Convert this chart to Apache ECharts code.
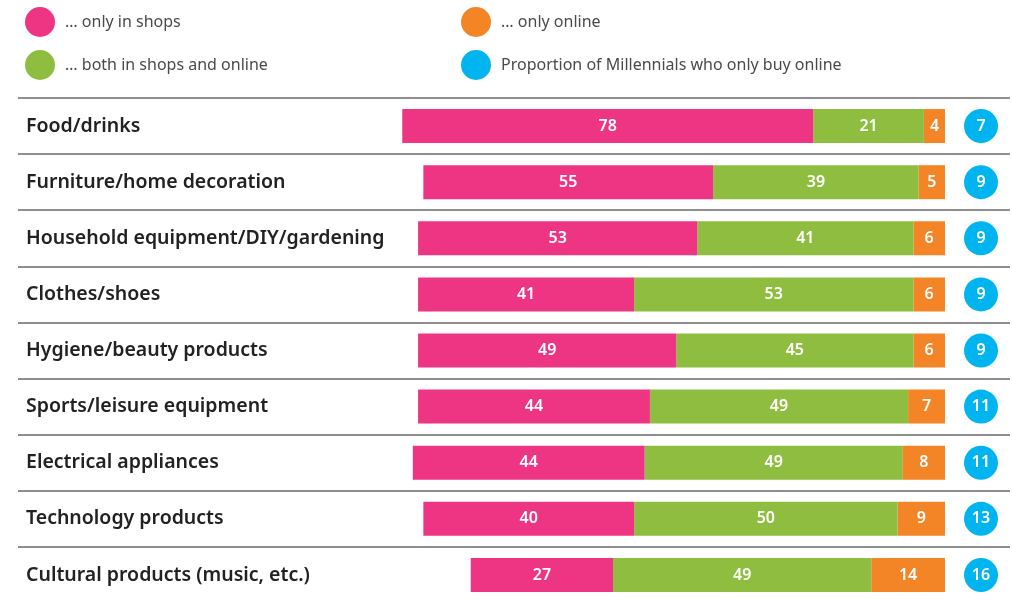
<!DOCTYPE html>
<html>
<head>
<meta charset="utf-8">
<script src="https://cdn.jsdelivr.net/npm/echarts@6/dist/echarts.min.js"></script>
<style>
  html, body { margin: 0; padding: 0; background: #fff; }
  #chart { width: 1012px; height: 600px; }
</style>
</head>
<body>
<div id="chart"></div>
<script>
var categories = [
    'Food/drinks',
    'Furniture/home decoration',
    'Household equipment/DIY/gardening',
    'Clothes/shoes',
    'Hygiene/beauty products',
    'Sports/leisure equipment',
    'Electrical appliances',
    'Technology products',
    'Cultural products (music, etc.)'
];
var onlyShops = [78, 55, 53, 41, 49, 44, 44, 40, 27];
var bothShopsOnline = [21, 39, 41, 53, 45, 49, 49, 50, 49];
var onlyOnline = [4, 5, 6, 6, 6, 7, 8, 9, 14];
var millennialsOnline = [7, 9, 9, 9, 9, 11, 11, 13, 16];

var colors = {
    shops: '#ee3584',
    both: '#8ebd3f',
    online: '#f48526',
    millennials: '#00b5ef'
};

var font = 'Noto Sans';
var gridTop = 98;
var gridHeight = 505;

var myChart = echarts.init(document.getElementById('chart'));

var barLabel = {
    show: true,
    position: 'inside',
    color: '#fff',
    fontSize: 16,
    fontWeight: 600,
    fontFamily: font
};

var legendText = { color: '#4a4a4a', fontSize: 16, fontFamily: font, padding: [0, 0, 0, 5] };

var option = {
    animation: false,
    backgroundColor: '#fff',
    legend: [
        {
            left: 25, top: 7, padding: 0,
            orient: 'vertical',
            itemWidth: 30, itemHeight: 30, itemGap: 13,
            icon: 'circle',
            textStyle: legendText,
            data: ['… only in shops', '… both in shops and online']
        },
        {
            left: 461, top: 7, padding: 0,
            orient: 'vertical',
            itemWidth: 30, itemHeight: 30, itemGap: 13,
            icon: 'circle',
            textStyle: legendText,
            data: ['… only online', 'Proportion of Millennials who only buy online']
        }
    ],
    grid: [
        { left: 18, right: 2, top: gridTop, height: gridHeight, outerBoundsMode: 'none' },
        { left: 397, right: 67, top: gridTop, height: gridHeight, outerBoundsMode: 'none' },
        { left: 964, width: 34, top: gridTop, height: gridHeight, outerBoundsMode: 'none' }
    ],
    xAxis: [
        { gridIndex: 0, type: 'value', min: 0, max: 1, show: false },
        { gridIndex: 1, type: 'value', min: 0, max: 104, inverse: true, show: false },
        { gridIndex: 2, type: 'category', data: ['Millennials'], show: false }
    ],
    yAxis: [
        {
            gridIndex: 0,
            type: 'category',
            data: categories,
            inverse: true,
            axisLine: { show: false },
            axisTick: { show: false },
            axisLabel: {
                inside: true,
                margin: 8,
                color: '#222',
                fontSize: 19.5,
                fontWeight: 600,
                fontFamily: font
            },
            splitLine: {
                show: true,
                interval: 0,
                lineStyle: { color: '#6a6a6a', width: 1.5 }
            }
        },
        { gridIndex: 1, type: 'category', data: categories, inverse: true, show: false },
        { gridIndex: 2, type: 'category', data: categories, inverse: true, show: false }
    ],
    series: [
        {
            name: '… only online',
            type: 'bar',
            stack: 'total',
            xAxisIndex: 1, yAxisIndex: 1,
            barWidth: 34,
            itemStyle: { color: colors.online },
            label: barLabel,
            data: onlyOnline
        },
        {
            name: '… both in shops and online',
            type: 'bar',
            stack: 'total',
            xAxisIndex: 1, yAxisIndex: 1,
            barWidth: 34,
            itemStyle: { color: colors.both },
            label: barLabel,
            data: bothShopsOnline
        },
        {
            name: '… only in shops',
            type: 'bar',
            stack: 'total',
            xAxisIndex: 1, yAxisIndex: 1,
            barWidth: 34,
            itemStyle: { color: colors.shops },
            label: barLabel,
            data: onlyShops
        },
        {
            name: 'Proportion of Millennials who only buy online',
            type: 'scatter',
            xAxisIndex: 2, yAxisIndex: 2,
            symbol: 'circle',
            symbolSize: 34,
            itemStyle: { color: colors.millennials, opacity: 1 },
            label: {
                show: true,
                position: 'inside',
                color: '#fff',
                fontSize: 16,
                fontWeight: 600,
                fontFamily: font,
                formatter: function (p) { return p.value[2]; }
            },
            data: categories.map(function (c, i) {
                return ['Millennials', c, millennialsOnline[i]];
            })
        }
    ]
};

myChart.setOption(option);
</script>
</body>
</html>
